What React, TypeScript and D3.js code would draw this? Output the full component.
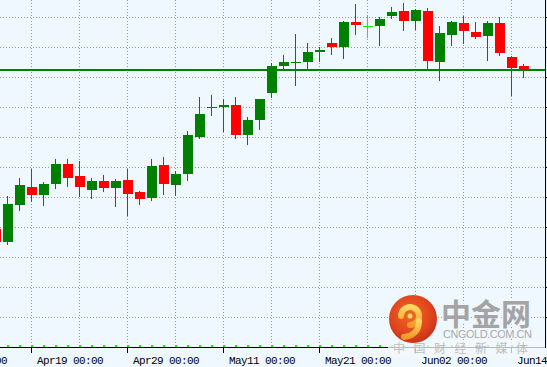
import React, { useRef, useEffect } from 'react';
import * as d3 from 'd3';

// daily bars, first one is partly off the left edge
const firstBar = -1;

const opens = [
  1159.3, 1155.0, 1167.3, 1173.3, 1170.7, 1174.3, 1181.0, 1177.0, 1172.3, 1175.3,
  1173.0, 1175.7, 1171.7, 1169.7, 1180.7, 1174.0, 1177.7, 1190.0, 1200.0, 1200.0,
  1200.7, 1190.7, 1195.7, 1204.7, 1213.7, 1214.7, 1215.0, 1218.3, 1221.3, 1220.0,
  1228.3, 1227.0, 1227.0, 1230.3, 1232.0, 1228.7, 1232.0, 1215.0, 1224.0, 1228.0,
  1225.0, 1223.7, 1228.0, 1216.7, 1213.7,
];
const highs = [
  1160.3, 1170.3, 1176.3, 1179.3, 1175.0, 1182.7, 1182.7, 1182.0, 1176.3, 1177.3,
  1176.0, 1179.3, 1172.0, 1182.7, 1183.3, 1178.7, 1192.0, 1203.3, 1204.0, 1202.7,
  1203.3, 1196.7, 1202.7, 1214.7, 1217.3, 1224.3, 1221.3, 1220.0, 1223.0, 1228.7,
  1234.3, 1230.7, 1230.0, 1233.3, 1234.7, 1232.7, 1233.0, 1227.0, 1228.7, 1230.3,
  1228.3, 1228.7, 1230.0, 1217.0, 1214.3,
];
const lows = [
  1153.7, 1154.0, 1165.3, 1168.3, 1167.0, 1172.7, 1173.3, 1170.0, 1169.3, 1171.7,
  1166.7, 1163.7, 1167.3, 1168.7, 1170.7, 1170.3, 1175.3, 1189.3, 1197.0, 1191.7,
  1189.3, 1187.3, 1192.3, 1203.0, 1212.7, 1207.0, 1212.7, 1215.0, 1217.3, 1216.0,
  1224.0, 1223.0, 1220.3, 1229.3, 1225.3, 1225.7, 1212.7, 1208.7, 1220.3, 1221.0,
  1222.7, 1215.3, 1217.0, 1203.7, 1209.7,
];
const closes = [
  1155.0, 1167.7, 1174.0, 1170.7, 1174.3, 1181.0, 1176.3, 1173.3, 1175.3, 1173.0,
  1175.3, 1171.0, 1169.3, 1180.3, 1174.3, 1177.7, 1190.7, 1197.7, 1199.7, 1200.7,
  1190.7, 1195.7, 1202.7, 1213.7, 1215.0, 1215.0, 1218.3, 1219.0, 1220.0, 1228.3,
  1227.3, 1227.0, 1229.3, 1231.7, 1228.7, 1232.3, 1215.3, 1224.7, 1228.3, 1225.3,
  1223.3, 1228.0, 1218.0, 1213.0, 1212.3,
];

const timeLabels = ['Apr09 00:00', 'Apr19 00:00', 'Apr29 00:00', 'May11 00:00', 'May21 00:00', 'Jun02 00:00', 'Jun14 00:00'];
const timeLabelBars = [-6, 2, 10, 18, 26, 34, 42];

const gridPrices = [1130, 1140, 1150, 1160, 1170, 1180, 1190, 1200, 1210, 1220, 1230];
const bidPrice = 1212.7;
const levelPrice = 1212.3;

const App: React.FC = () => {
  const svgRef = useRef<SVGSVGElement | null>(null);

  useEffect(() => {
    if (!svgRef.current) return;
    const svg = d3.select(svgRef.current);
    svg.selectAll('*').remove();

    const width = 547;
    const height = 367;
    const plotRight = 545;
    const plotBottom = 347;

    const upColor = '#008000';
    const downColor = '#ff0000';
    const flatColor = '#00ff00';

    // bar index -> candle center, 12px per bar
    const x = d3.scaleLinear().domain([0, 1]).range([8, 20]);
    const y = d3.scaleLinear().domain([1120, 1230]).range([plotBottom, 17]);
    const px = (i: number) => Math.round(x(i));
    const py = (v: number) => Math.round(y(v));

    svg.append('rect').attr('width', width).attr('height', height).attr('fill', '#f0f8ff');

    // dotted grid
    const grid = svg.append('g')
      .attr('stroke', '#999')
      .attr('stroke-width', 1)
      .attr('stroke-dasharray', '1,2')
      .attr('shape-rendering', 'crispEdges');

    gridPrices.forEach(p => {
      grid.append('line')
        .attr('x1', 0).attr('x2', plotRight)
        .attr('y1', py(p) + 0.5).attr('y2', py(p) + 0.5);
    });

    const lastBar = firstBar + opens.length - 1;
    d3.range(2, lastBar + 1, 4).forEach(i => {
      grid.append('line')
        .attr('x1', px(i) - 0.5).attr('x2', px(i) - 0.5)
        .attr('y1', 0).attr('y2', plotBottom);
    });

    // candles
    const bars = opens.map((o, k) => ({
      i: k + firstBar, o, h: highs[k], l: lows[k], c: closes[k]
    }));

    const candles = svg.append('g').attr('shape-rendering', 'crispEdges');
    bars.forEach(d => {
      const color = d.c > d.o ? upColor : d.c < d.o ? downColor : flatColor;
      const cx = px(d.i);
      candles.append('rect')
        .attr('x', cx - 1).attr('width', 1)
        .attr('y', py(d.h)).attr('height', py(d.l) - py(d.h))
        .attr('fill', color);
      const top = py(Math.max(d.o, d.c));
      const bot = py(Math.min(d.o, d.c));
      candles.append('rect')
        .attr('x', cx - 5).attr('width', 10)
        .attr('y', top).attr('height', Math.max(1, bot - top))
        .attr('fill', color);
    });

    // bar markers along the time axis
    bars.forEach(d => {
      candles.append('rect')
        .attr('x', px(d.i) - 1).attr('y', plotBottom - 2)
        .attr('width', 2).attr('height', 2)
        .attr('fill', flatColor);
    });

    // horizontal level + bid line
    svg.append('line')
      .attr('x1', 0).attr('x2', plotRight)
      .attr('y1', py(levelPrice) + 0.5).attr('y2', py(levelPrice) + 0.5)
      .attr('stroke', upColor).attr('shape-rendering', 'crispEdges');
    svg.append('line')
      .attr('x1', 0).attr('x2', plotRight)
      .attr('y1', py(bidPrice) + 0.5).attr('y2', py(bidPrice) + 0.5)
      .attr('stroke', downColor).attr('shape-rendering', 'crispEdges');

    // axes
    const axes = svg.append('g').attr('stroke', '#000').attr('shape-rendering', 'crispEdges');
    axes.append('line')
      .attr('x1', 0).attr('x2', plotRight + 1)
      .attr('y1', plotBottom + 0.5).attr('y2', plotBottom + 0.5);
    axes.append('line')
      .attr('x1', plotRight + 0.5).attr('x2', plotRight + 0.5)
      .attr('y1', 0).attr('y2', plotBottom + 1);
    gridPrices.forEach(p => {
      axes.append('line')
        .attr('x1', plotRight + 1).attr('x2', plotRight + 4)
        .attr('y1', py(p) + 0.5).attr('y2', py(p) + 0.5);
    });
    timeLabelBars.forEach(i => {
      axes.append('line')
        .attr('x1', px(i) - 0.5).attr('x2', px(i) - 0.5)
        .attr('y1', plotBottom + 1).attr('y2', plotBottom + 6);
    });

    const labels = svg.append('g')
      .attr('font-family', '"Liberation Mono", monospace')
      .attr('font-size', 11)
      .attr('letter-spacing', -0.6)
      .attr('fill', '#000');
    timeLabels.forEach((t, k) => {
      labels.append('text')
        .attr('x', px(timeLabelBars[k]) + 5)
        .attr('y', 364)
        .text(t);
    });

    // cngold watermark
    const wm = svg.append('g');
    const defs = svg.append('defs');
    const ball = defs.append('radialGradient').attr('id', 'wm-ball').attr('cx', '45%').attr('cy', '40%').attr('r', '60%');
    ball.append('stop').attr('offset', '0%').attr('stop-color', '#f06a28');
    ball.append('stop').attr('offset', '70%').attr('stop-color', '#e0441c');
    ball.append('stop').attr('offset', '100%').attr('stop-color', '#c8321a');
    const swirl = defs.append('linearGradient').attr('id', 'wm-swirl').attr('x1', '0%').attr('y1', '0%').attr('x2', '0%').attr('y2', '100%');
    swirl.append('stop').attr('offset', '0%').attr('stop-color', '#ffd860');
    swirl.append('stop').attr('offset', '100%').attr('stop-color', '#f59a2a');

    wm.append('rect')
      .attr('x', 388).attr('y', 340).attr('width', 157).attr('height', 17)
      .attr('fill', '#f3f8fd').attr('opacity', 0.75);

    const logo = wm.append('g').attr('transform', 'translate(413,319)');
    logo.append('circle').attr('r', 24).attr('fill', 'url(#wm-ball)');
    logo.append('path')
      .attr('d', 'M-3,-3 m-9,0 a9,9 0 1,1 18,0 a9,9 0 0,1 -9,9')
      .attr('fill', 'none').attr('stroke', 'url(#wm-swirl)').attr('stroke-width', 6)
      .attr('stroke-linecap', 'round');
    logo.append('path')
      .attr('d', 'M6,2 C6,12 0,17 -9,18')
      .attr('fill', 'none').attr('stroke', 'url(#wm-swirl)').attr('stroke-width', 6)
      .attr('stroke-linecap', 'round');
    logo.append('circle').attr('cx', -3).attr('cy', -3).attr('r', 2.5).attr('fill', '#ffd860');

    wm.append('text')
      .attr('x', 441).attr('y', 325)
      .attr('font-family', '"Noto Sans CJK SC", sans-serif')
      .attr('font-size', 30).attr('font-weight', 'bold')
      .attr('fill', '#a4a4a4')
      .attr('stroke', '#f0f8ff').attr('stroke-width', 3).attr('paint-order', 'stroke')
      .text('中金网');
    wm.append('text')
      .attr('x', 443).attr('y', 338)
      .attr('font-family', '"Liberation Sans", Arial, sans-serif')
      .attr('font-size', 11)
      .attr('textLength', 89).attr('lengthAdjust', 'spacing')
      .attr('fill', '#a8a8a8')
      .attr('stroke', '#f0f8ff').attr('stroke-width', 2).attr('paint-order', 'stroke')
      .text('CNGOLD.COM.CN');
    wm.append('text')
      .attr('x', 393).attr('y', 353)
      .attr('font-family', '"Noto Sans CJK SC", sans-serif')
      .attr('font-size', 12)
      .attr('textLength', 135).attr('lengthAdjust', 'spacing')
      .attr('fill', '#bdbdbd')
      .text('中国财经新媒体');
  }, []);

  return (
    <svg
      ref={svgRef}
      width={547}
      height={367}
      style={{ position: 'absolute', left: 0, top: 0, display: 'block' }}
    />
  );
};

export default App;
